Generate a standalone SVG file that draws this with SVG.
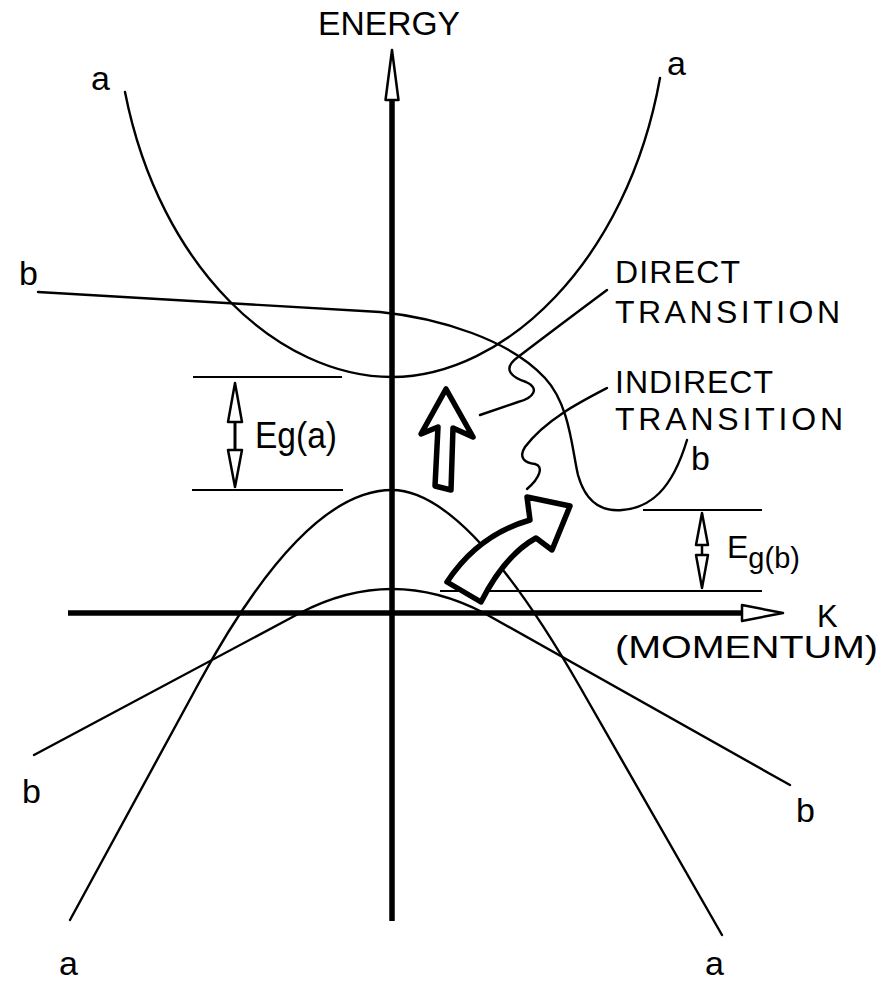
<svg xmlns="http://www.w3.org/2000/svg" width="896" height="981" viewBox="0 0 896 981">
<style>
.curve{fill:none;stroke:#000;stroke-width:2.4;stroke-linecap:round;stroke-linejoin:round}
.axis{fill:none;stroke:#000;stroke-width:5.5;stroke-linecap:butt}
.level{fill:none;stroke:#000;stroke-width:2}
.head{fill:#fff;stroke:#000;stroke-width:2.5;stroke-linejoin:round}
.big{fill:#fff;stroke:#000;stroke-width:5.5;stroke-linejoin:round}
.lbl{font-family:"Liberation Sans",Arial,sans-serif;fill:#000}
.ab{font-family:"Liberation Sans",Arial,sans-serif;fill:#000;font-size:34px}
</style>
<rect width="896" height="981" fill="#fff"/>

<g id="axes">
  <line class="axis" x1="392" y1="98" x2="392" y2="921"/>
  <polygon class="head" points="392,50 385.5,100 398.5,100"/>
  <line class="axis" x1="68" y1="613" x2="745" y2="613"/>
  <polygon class="head" points="742,605 783,613 742,621"/>
</g>

<g id="bands">
  <path id="band-a-conduction" class="curve" d="M125,92 C160,270 280,377 392,377 C504,377 627,262 660,78"/>
  <path id="band-a-valence" class="curve" d="M70,920 L200,681 Q304,490 392,490 Q467,490 580,687 L722,935"/>
  <path id="band-b-valence" class="curve" d="M34,755 L300,613 Q346,589 392,589 Q438,589 484,613 L790,785"/>
  <path id="band-b-conduction" class="curve" d="M38,292 L380,312 C440,318 510,340 545,378 C570,405 572,450 578,475 C585,500 600,512 622,510 C650,508 672,490 687,440"/>
</g>

<g id="gap-a">
  <line class="level" x1="193" y1="377" x2="342" y2="377"/>
  <line class="level" x1="192" y1="490" x2="343" y2="490"/>
  <polygon class="head" points="235,383 228,422 242,422"/>
  <line x1="235" y1="422" x2="235" y2="450" stroke="#000" stroke-width="3"/>
  <polygon class="head" points="228,450 242,450 235,487"/>
  <text class="lbl" x="255" y="448" font-size="36" textLength="82" lengthAdjust="spacingAndGlyphs">Eg(a)</text>
</g>

<g id="gap-b">
  <line class="level" x1="643" y1="510" x2="762" y2="510"/>
  <line class="level" x1="440" y1="591" x2="762" y2="591"/>
  <polygon class="head" points="702,513 696,545 708,545"/>
  <line x1="702" y1="545" x2="702" y2="555" stroke="#000" stroke-width="2.5"/>
  <polygon class="head" points="696,555 708,555 702,588"/>
  <text class="lbl" x="727" y="558" font-size="32">E<tspan font-size="29" dy="10">g(b)</tspan></text>
</g>

<g id="direct-arrow">
  <polygon class="big" points="446,389 473,437 453,428 451,490 435,486 438,427 421,434"/>
</g>

<g id="indirect-arrow">
  <path class="big" d="M527,497 L570,506 L552,550 L536,538 Q505,555 481,602 L447,582 Q478,535 530,520 Z"/>
</g>

<g id="connectors">
  <path class="curve" d="M607,290 Q560,325 518,357 C500,370 514,378 526,382 C540,388 534,398 518,402 L480,415"/>
  <path class="curve" d="M607,388 C580,402 545,420 525,447 C518,458 525,463 535,464 C544,466 540,478 527,489"/>
</g>

<g id="labels">
  <text class="lbl" x="318" y="35" font-size="33" textLength="142" lengthAdjust="spacingAndGlyphs">ENERGY</text>
  <text class="ab" x="91" y="90">a</text>
  <text class="ab" x="667" y="75">a</text>
  <text class="ab" x="19" y="285">b</text>
  <text class="lbl" x="615" y="283" font-size="32" textLength="125" lengthAdjust="spacing">DIRECT</text>
  <text class="lbl" x="615" y="323" font-size="32" textLength="225" lengthAdjust="spacing">TRANSITION</text>
  <text class="lbl" x="615" y="393" font-size="32" textLength="158" lengthAdjust="spacing">INDIRECT</text>
  <text class="lbl" x="615" y="430" font-size="32" textLength="228" lengthAdjust="spacing">TRANSITION</text>
  <text class="ab" x="691" y="470">b</text>
  <text class="lbl" x="817" y="627" font-size="31">K</text>
  <text class="lbl" x="615" y="658" font-size="31" textLength="263" lengthAdjust="spacingAndGlyphs">(MOMENTUM)</text>
  <text class="ab" x="22" y="803">b</text>
  <text class="ab" x="796" y="822">b</text>
  <text class="ab" x="59" y="975">a</text>
  <text class="ab" x="705" y="975">a</text>
</g>
</svg>
